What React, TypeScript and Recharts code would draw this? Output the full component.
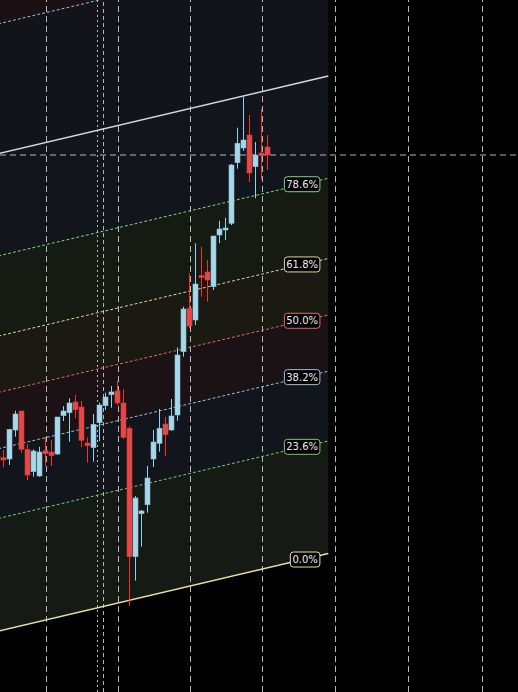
import React from 'react';
import { ComposedChart, Bar, Area, XAxis, YAxis, ReferenceLine, ReferenceDot } from 'recharts';

// candles, left to right (price units are arbitrary, no price axis shown)
const opens = [23.6, 23.43, 23.3, 26.2, 28.1, 24.27, 22.03, 21.6, 24.13, 24.0, 23.8, 27.63, 27.93, 29.0, 28.5, 24.9, 24.43, 26.93, 28.63, 29.73, 30.1, 28.9, 26.37, 13.53, 17.83, 18.73, 23.3, 24.87, 26.8, 26.2, 27.7, 34.03, 38.37, 37.2, 41.63, 42.0, 40.53, 45.7, 46.2, 46.87, 52.93, 54.4, 55.7, 52.53, 53.9, 54.5];
const highs = [23.8, 24.2, 26.27, 28.13, 28.1, 24.77, 24.27, 24.53, 25.47, 25.2, 27.5, 28.6, 29.37, 29.7, 29.1, 25.47, 27.8, 28.93, 29.93, 30.6, 31.1, 30.3, 26.6, 19.6, 18.2, 22.6, 26.2, 28.3, 27.5, 29.3, 34.47, 38.53, 41.87, 44.87, 44.53, 43.2, 45.6, 47.13, 47.43, 52.8, 56.43, 59.53, 57.7, 55.0, 58.3, 55.7];
const lows = [23.0, 22.47, 22.7, 25.53, 23.93, 21.2, 21.53, 21.53, 22.6, 22.6, 23.7, 27.1, 25.03, 27.37, 24.5, 22.93, 23.03, 25.07, 28.2, 28.43, 28.7, 25.3, 8.6, 11.13, 14.53, 17.93, 22.5, 24.03, 23.6, 26.13, 27.13, 33.53, 36.37, 36.7, 39.53, 39.03, 40.2, 44.87, 45.2, 46.7, 52.33, 54.1, 51.0, 49.37, 51.27, 52.2];
const closes = [23.3, 23.2, 26.27, 27.8, 24.27, 21.7, 24.1, 24.0, 23.83, 23.63, 27.5, 28.1, 28.9, 28.23, 25.17, 24.63, 26.77, 28.7, 29.5, 30.0, 28.9, 25.47, 13.53, 19.4, 18.1, 21.4, 25.0, 26.37, 25.73, 27.6, 33.7, 38.3, 36.6, 40.8, 41.43, 41.2, 45.6, 46.3, 46.4, 52.7, 54.87, 55.2, 51.9, 53.7, 53.67, 53.7];

// fibonacci channel
const fibLevels = [0, 0.236, 0.382, 0.5, 0.618, 0.786, 1, 1.272, 1.618];
const fibLabels = ['0.0%', '23.6%', '38.2%', '50.0%', '61.8%', '78.6%', '100.0%', '127.2%', '161.8%'];
const fibShown = [true, true, true, true, true, true, false, false, false];
const chStart = 0;
const chEnd = 55;
const baseStart = 6.08;
const baseEnd = 13.84;
const chHeight = 47.75;
const tagAt = 50.8; // bar index where tags sit
const tagRight = 53.6;

// time grid (bar index)
const gridX = [8.033, 20.033, 32.033, 44.033, 56.2, 68.367, 80.7];
const sessionX = [16.533, 17.533];

const lineColors = ['#e3e3a3', '#78c878', '#9cc0d4', '#e26a6a', '#d8d89c', '#88d088', '#d8d8d8', '#9cc0d4', '#e26a6a'];
const bandColors = ['#151a14', '#12151b', '#1b1215', '#1a1a13', '#151a13', '#12151b', '#121419', '#1b1014'];

const candles = opens.map((o, i) => ({ i, o, h: highs[i], l: lows[i], c: closes[i] }));
const lastClose = closes[closes.length - 1];

const baseAt = (x: number) => baseStart + (baseEnd - baseStart) * (x - chStart) / (chEnd - chStart);
const channel = [chStart, chEnd].map((x) => {
  const row: any = { i: x };
  for (let k = 1; k < fibLevels.length; k++) {
    row['b' + k] = [baseAt(x) + fibLevels[k - 1] * chHeight, baseAt(x) + fibLevels[k] * chHeight];
  }
  return row;
});

const Candle = (props: any) => {
  const { x, y, width, height, payload } = props;
  if (!payload || payload.h == null) return null;
  const { o, h, l, c } = payload;
  const top = Math.min(y, y + height);
  const span = Math.abs(height);
  const py = (p: number) => top + ((h - p) / (h - l)) * span;
  const up = c >= o;
  const cx = Math.floor(x + width / 2) + 0.5;
  const bt = py(Math.max(o, c));
  const bb = py(Math.min(o, c));
  return (
    <g>
      <line x1={cx} x2={cx} y1={top} y2={top + span} stroke={up ? '#8fd0ee' : '#ff2a2a'} strokeWidth={1} />
      <rect x={cx - 2.5} y={bt} width={5} height={Math.max(1.5, bb - bt)} fill={up ? '#a9d6e8' : '#e44848'} stroke={up ? '#86bcd4' : '#d03c3c'} strokeWidth={0.6} />
    </g>
  );
};

const FibTag = (props: any) => {
  const { cx, cy, text, color } = props;
  const w = 6 + text.length * 5.9;
  return (
    <g>
      <rect x={cx - w} y={cy - 7.5} width={w} height={15} rx={3} fill="#000" stroke={color} strokeWidth={1} />
      <text x={cx - w / 2} y={cy + 3.6} textAnchor="middle" fontSize={10} fill="#ececec" fontFamily="DejaVu Sans">{text}</text>
    </g>
  );
};

export default function App() {
  return (
    <div style={{ position: 'absolute', left: 0, top: 0, width: 518, height: 692, background: '#000' }}>
      <ComposedChart width={518} height={692} data={candles} margin={{ top: 0, right: 0, bottom: 0, left: 0 }}>
        <XAxis type="number" dataKey="i" domain={[0.2833, 86.6167]} allowDataOverflow hide />
        <YAxis type="number" domain={[0, 69.2]} allowDataOverflow hide />
        {bandColors.map((col, k) => (
          <Area key={'band' + k} data={channel} dataKey={'b' + (k + 1)} type="linear" stroke="none" fill={col} fillOpacity={1} dot={false} activeDot={false} isAnimationActive={false} zIndex={100} />
        ))}
        {gridX.map((gx) => (
          <ReferenceLine key={'g' + gx} x={gx} stroke="#b8b8b8" strokeDasharray="6 4" ifOverflow="visible" zIndex={150} />
        ))}
        <ReferenceLine x={sessionX[0]} stroke="#b8b8b8" strokeDasharray="2 3" ifOverflow="visible" zIndex={150} />
        <ReferenceLine x={sessionX[1]} stroke="#b8b8b8" strokeDasharray="4 3" ifOverflow="visible" zIndex={150} />
        <ReferenceLine y={lastClose} stroke="#b8b8b8" strokeDasharray="6 4" ifOverflow="visible" zIndex={150} />
        {fibLevels.map((lv, k) => (
          <ReferenceLine
            key={'fib' + k}
            segment={[{ x: chStart, y: baseStart + lv * chHeight }, { x: chEnd, y: baseEnd + lv * chHeight }]}
            stroke={lineColors[k]}
            strokeWidth={lv === 0 || lv === 1 ? 1.5 : 1}
            strokeDasharray={lv === 0 || lv === 1 ? undefined : '3 2'}
            ifOverflow="visible"
            zIndex={200}
          />
        ))}
        <Bar dataKey={(d: any) => [d.l, d.h]} barSize={5} shape={(p: any) => <Candle {...p} />} isAnimationActive={false} zIndex={300} />
        {fibLevels.map((lv, k) =>
          fibShown[k] ? (
            <ReferenceDot
              key={'tag' + k}
              x={tagRight}
              y={baseAt(tagAt) + lv * chHeight}
              r={0}
              ifOverflow="visible"
              zIndex={2000}
              shape={(p: any) => <FibTag {...p} text={fibLabels[k]} color={lineColors[k]} />}
            />
          ) : null
        )}
      </ComposedChart>
    </div>
  );
}
